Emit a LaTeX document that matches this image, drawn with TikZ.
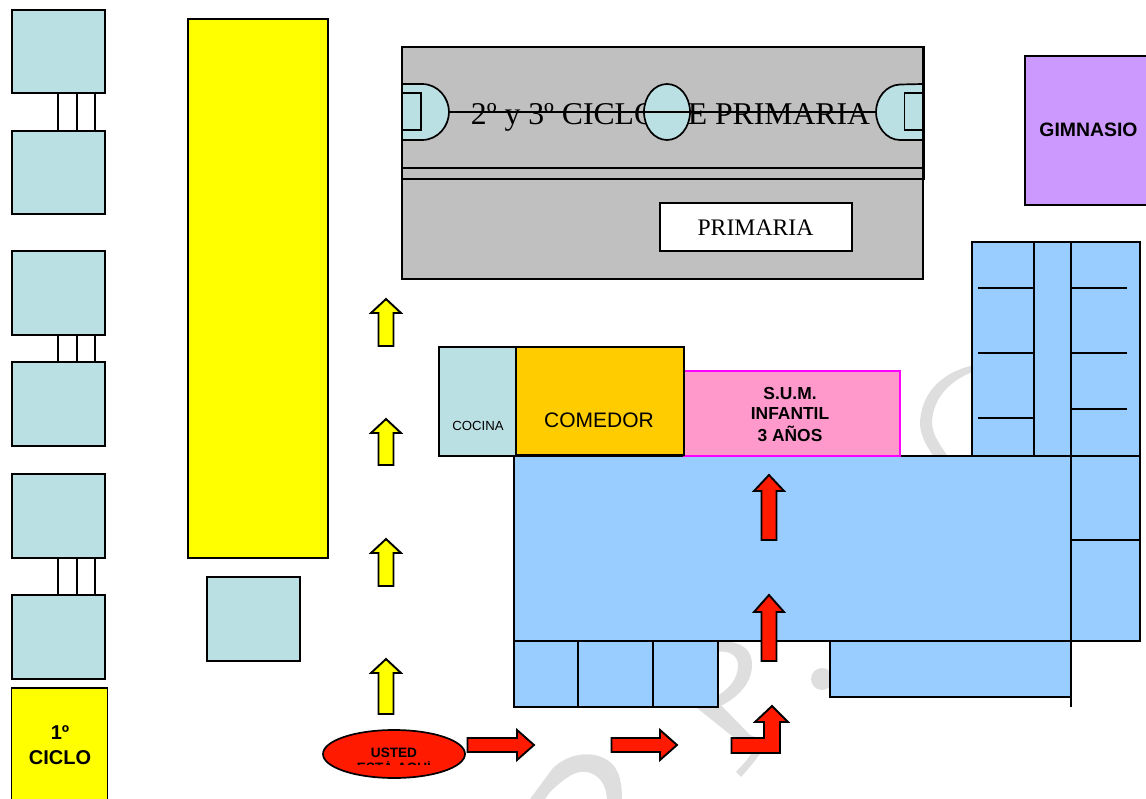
\documentclass[tikz,border=0pt]{standalone}
\usepackage{fontspec}
\setmainfont{Liberation Sans}
\newfontfamily\serifface{Liberation Serif}
\definecolor{teal1}{HTML}{BBE0E3}
\definecolor{blue1}{HTML}{99CCFF}
\definecolor{gray1}{HTML}{C0C0C0}
\definecolor{orange1}{HTML}{FFCC00}
\definecolor{pink1}{HTML}{FF99CC}
\definecolor{magenta1}{HTML}{FF00FF}
\definecolor{purple1}{HTML}{CC99FF}
\definecolor{red1}{HTML}{FF1A00}
\definecolor{yellow1}{HTML}{FFFF00}
\definecolor{mark1}{HTML}{DEDEDE}
\tikzset{
  ln/.style={draw=black,line width=2pt,line join=miter},
  thin ln/.style={draw=black,line width=1.7pt},
  tealroom/.style={ln,fill=teal1},
  blueroom/.style={thin ln,fill=blue1},
  yarrow/.style={draw=black,line width=1.9pt,fill=yellow1,line join=miter},
  rarrow/.style={draw=black,line width=1.9pt,fill=red1,line join=miter},
  wmark/.style={fill=mark1,draw=none},
  lbl/.style={inner sep=0pt,align=center,text=black},
}
\newcommand{\fsz}[1]{\fontsize{#1}{#1}\selectfont}
\newcommand{\uparrowshape}[5][yarrow]{%
  % style, centre x, tip y, head base y, bottom y
  \draw[#1] (#2,#3) -- (#2+15,#4) -- (#2+7.5,#4) -- (#2+7.5,#5) -- (#2-7.5,#5) -- (#2-7.5,#4) -- (#2-15,#4) -- cycle;}
\newcommand{\rightarrowshape}[3]{%
  % left x, head base x, tip x
  \draw[rarrow] (#1,738) -- (#2,738) -- (#2,730) -- (#3,745) -- (#2,760) -- (#2,752) -- (#1,752) -- cycle;}
\begin{document}
\begin{tikzpicture}[x=1pt,y=-1pt]
\useasboundingbox (0,0) rectangle (1146,799);
\clip (0,0) rectangle (1146,799);
% watermark
\fill[wmark] (975,365) .. controls (940,372) and (920,395) .. (920,425) .. controls (921,438) and (928,448) .. (936,460) -- (950,460) .. controls (942,447) and (932,436) .. (932,422) .. controls (933,398) and (950,380) .. (975,371) -- cycle;
\fill[wmark] (716,642) .. controls (735,640) and (752,645) .. (752,665) .. controls (752,685) and (735,700) .. (716,708) -- (714,698) .. controls (728,690) and (738,680) .. (738,665) .. controls (738,655) and (728,650) .. (716,652) -- cycle;
\fill[wmark] (697,708) -- (716,700) -- (750,735) -- (768,742) .. controls (760,755) and (750,767) .. (741,777) -- (736,772) .. controls (742,765) and (748,760) .. (752,752) -- cycle;
\fill[wmark] (530,799) -- (553,768) .. controls (570,752) and (595,750) .. (610,762) .. controls (620,770) and (622,785) .. (622,799) -- (607,799) .. controls (606,785) and (600,775) .. (587,772) .. controls (575,770) and (565,778) .. (550,792) -- (545,799) -- cycle;
\fill[wmark] (822,679) circle (11);
% left column
\draw[tealroom] (11.5,10) rectangle (104.5,93);
\draw[tealroom] (11.5,131) rectangle (104.5,214);
\draw[tealroom] (11.5,251) rectangle (104.5,335);
\draw[tealroom] (11.5,362) rectangle (104.5,446);
\draw[tealroom] (11.5,474) rectangle (104.5,558);
\draw[tealroom] (11.5,595) rectangle (104.5,679);
\foreach \cx in {58,77,95}{
  \draw[thin ln] (\cx,93) -- (\cx,131);
  \draw[thin ln] (\cx,335) -- (\cx,362);
  \draw[thin ln] (\cx,558) -- (\cx,595);
}
\draw[thin ln,fill=yellow1] (11.5,688) rectangle (107.5,802);
\node[lbl,font=\bfseries\fsz{20}] (ciclouno) at (60,732.5) {1º};
\node[lbl,font=\bfseries\fsz{20}] (ciclodos) at (60,757.5) {CICLO};
\draw[thin ln,fill=yellow1] (188,19) rectangle (328,558);
\draw[tealroom] (207,577) rectangle (300,661);
% primaria
\draw[ln,fill=gray1] (402,47) rectangle (923,279);
\draw[ln] (402,47) rectangle (924,179);
\draw[thin ln] (402,168) -- (924,168);
\node[lbl,font=\serifface\fsz{31.7}] (ciclos) at (670.5,117) {2º y 3º CICLO DE PRIMARIA};
\draw[thin ln,fill=teal1] (402,84) -- (422,84) .. controls (438,84) and (449,98) .. (449,112) .. controls (449,126) and (438,140) .. (422,140) -- (402,140) -- cycle;
\draw[thin ln,fill=teal1] (923,84) -- (900,84.5) .. controls (886,85) and (876,98) .. (876,112) .. controls (876,126) and (886,140) .. (900,140) -- (923,140) -- cycle;
\draw[thin ln] (402,93) rectangle (421,130);
\draw[thin ln] (904.5,93) rectangle (923,130);
\draw[thin ln,fill=teal1] (667,112) ellipse (23 and 28);
\draw[thin ln] (449,112) -- (876,112);
\draw[ln,fill=white] (660,203) rectangle (852,251);
\node[lbl,font=\serifface\fsz{23.7}] (primaria) at (755.5,228) {PRIMARIA};
% gimnasio
\draw[ln,fill=purple1] (1025,56) rectangle (1150,205);
\node[lbl,font=\bfseries\fsz{19.4}] (gimnasio) at (1088.5,130) {GIMNASIO};
% blue wing
\draw[blueroom] (972,242) rectangle (1140,456);
\draw[blueroom] (1034,242) -- (1034,456);
\draw[blueroom] (1071,242) -- (1071,456);
\foreach \ly in {288,353,418}{\draw[thin ln] (978,\ly) -- (1034,\ly);}
\foreach \ly in {288,353,409}{\draw[thin ln] (1071,\ly) -- (1127,\ly);}
\draw[blueroom] (514,456) rectangle (1071,641);
\draw[blueroom] (1071,456) rectangle (1140,641);
\draw[thin ln] (1071,540) -- (1140,540);
\draw[blueroom] (514,641) rectangle (718,707);
\draw[thin ln] (578,641) -- (578,707);
\draw[thin ln] (653,641) -- (653,707);
\draw[blueroom] (830,641) rectangle (1071,697);
\draw[thin ln] (1071,641) -- (1071,707);
% cocina comedor sum
\draw[draw=magenta1,line width=1.8pt,fill=pink1] (684,371) rectangle (900,456);
\draw[thin ln,fill=teal1] (439,347) rectangle (516,456);
\draw[ln,fill=orange1] (516,347) rectangle (684,455);
\node[lbl,font=\fsz{13.2}] (cocina) at (478,425.5) {COCINA};
\node[lbl,font=\fsz{21}] (comedor) at (599,420) {COMEDOR};
\node[lbl,font=\bfseries\fsz{17.4}] (sum1) at (790,394) {S.U.M.};
\node[lbl,font=\bfseries\fsz{17.4}] (sum2) at (790,414) {INFANTIL};
\node[lbl,font=\bfseries\fsz{17.4}] (sum3) at (790,434) {3 AÑOS};
% yellow arrows
\uparrowshape{386}{299}{313}{346}
\uparrowshape{386}{419}{433}{465}
\uparrowshape{386}{539}{553}{586}
\uparrowshape{386}{659}{673}{714}
% red arrows
\uparrowshape[rarrow]{769}{475}{491}{540}
\uparrowshape[rarrow]{769}{595}{612}{661}
\rightarrowshape{467.5}{517}{534}
\rightarrowshape{611.5}{660}{677}
\draw[rarrow] (731.5,753) -- (731.5,738) -- (764,738) -- (764,722) -- (755,722) -- (772,706) -- (788,722) -- (780,722) -- (780,753) -- cycle;
% usted
\draw[thin ln,fill=red1] (394,754) ellipse (71 and 24);
\node[lbl,font=\bfseries\fsz{13.6}] (usted) at (394,753) {USTED};
\begin{scope}
\clip (340,761.5) rectangle (450,764.5);
\node[lbl,font=\bfseries\fsz{13.6}] (aqui) at (394,768) {ESTÁ AQUÍ};
\end{scope}
\end{tikzpicture}
\end{document}
